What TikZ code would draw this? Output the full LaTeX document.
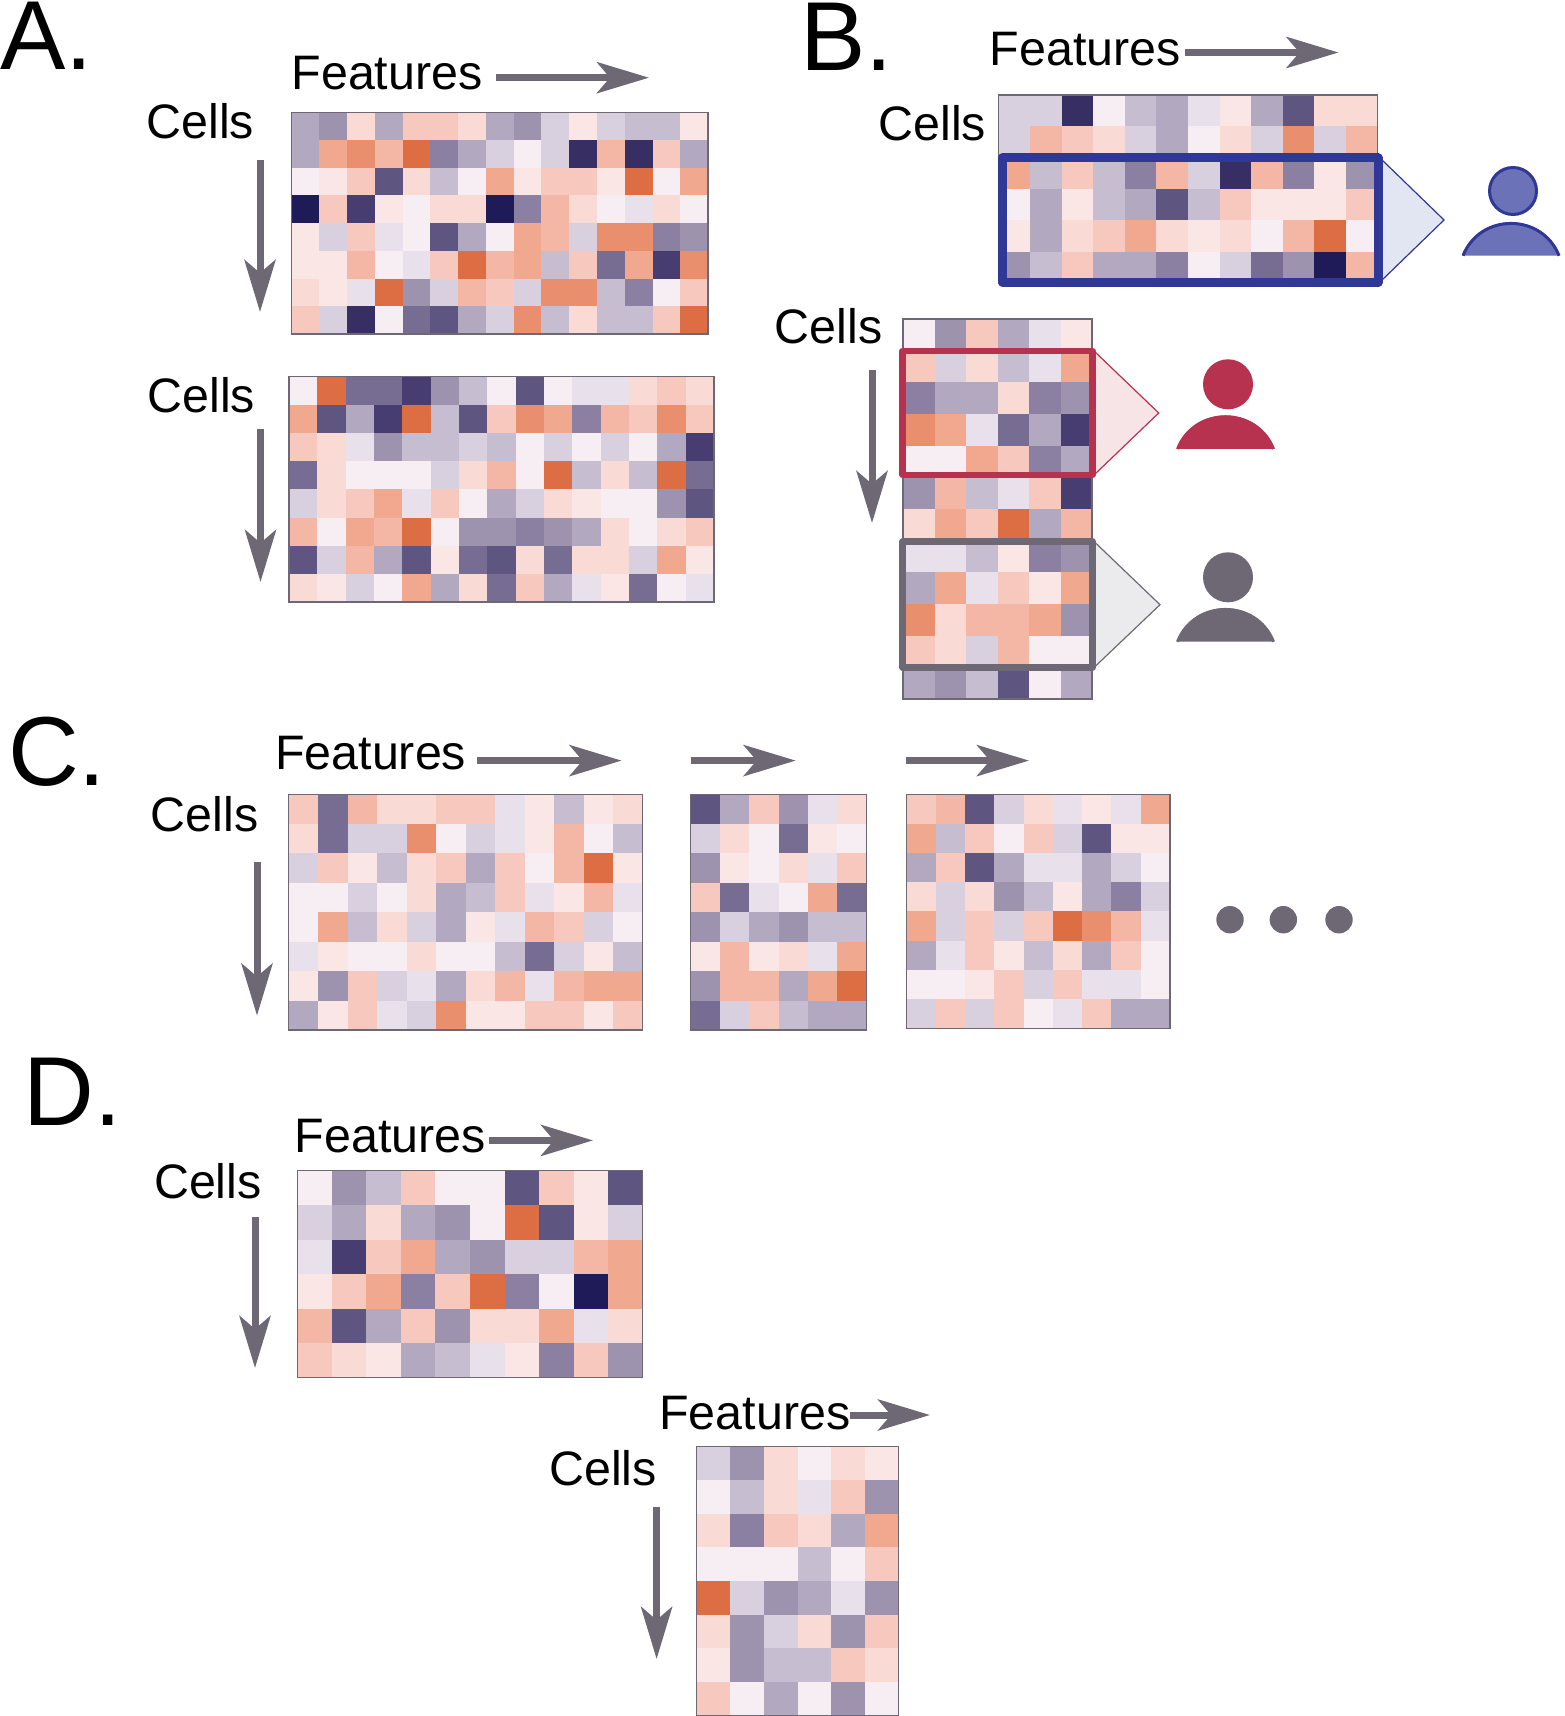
\documentclass[tikz,border=0pt]{standalone}
\usepackage{fontspec}
\setmainfont{Liberation Sans}
\usetikzlibrary{arrows.meta}
\definecolor{hma}{HTML}{1F1B58}
\definecolor{hmb}{HTML}{372F63}
\definecolor{hmc}{HTML}{483D70}
\definecolor{hmd}{HTML}{5F5581}
\definecolor{hme}{HTML}{776C92}
\definecolor{hmf}{HTML}{8C80A2}
\definecolor{hmg}{HTML}{9D93AF}
\definecolor{hmh}{HTML}{B2A9C1}
\definecolor{hmi}{HTML}{C6BED0}
\definecolor{hmj}{HTML}{D8D0DF}
\definecolor{hmk}{HTML}{E8E1EB}
\definecolor{hml}{HTML}{F6EEF3}
\definecolor{hmm}{HTML}{F9E6E5}
\definecolor{hmn}{HTML}{F9DAD5}
\definecolor{hmo}{HTML}{F7C9BE}
\definecolor{hmp}{HTML}{F4B7A5}
\definecolor{hmq}{HTML}{F0A88F}
\definecolor{hmr}{HTML}{E98F6E}
\definecolor{hms}{HTML}{DD6E44}
\definecolor{duSlate}{HTML}{6E6875}
\definecolor{duBlue}{HTML}{2F3797}
\definecolor{duBlueFill}{HTML}{6C72B8}
\definecolor{duBluePale}{HTML}{E2E5F2}
\definecolor{duRed}{HTML}{B7324F}
\definecolor{duRedPale}{HTML}{F6E4E7}
\definecolor{duSlatePale}{HTML}{EBEBED}
\tikzset{
  panel/.style      = {font=\fontsize{49}{59}\selectfont, inner sep=0pt, anchor=base west},
  lbl/.style        = {font=\fontsize{24.2}{29}\selectfont, inner sep=0pt, anchor=base west},
  axisarrow/.style  = {-{Stealth[length=26pt, width=15.5pt, inset=6.5pt]}, line width=3.5pt, duSlate},
  gridline/.style   = {draw=duSlate, line width=0.6pt},
  frame/.style      = {line width=#1, line join=round},
  pointer/.style    = {line width=0.6pt, line join=miter},
  dotnode/.style    = {circle, fill=duSlate, inner sep=0pt, minimum size=13.7pt},
}
\newcommand{\heatmap}[7]{
  \pgfmathsetmacro{\cellw}{(#3-#1)/#5}
  \pgfmathsetmacro{\cellh}{(#4-#2)/#6}
  \foreach \row [count=\r] in {#7} {
    \foreach \col [count=\k] in \row {
      \fill[fill=hm\col] ({#1+(\k-1)*\cellw},{#2+(\r-1)*\cellh}) rectangle ++(\cellw,\cellh);
    }
  }
  \draw[gridline] (#1,#2) rectangle (#3,#4);
}
\newcommand{\person}[6]{
  \draw[fill=#5, draw=#6, line width=1.5pt] (#1,#2) circle[radius=23.5];
  \fill[#5] (#3,#4) .. controls (#3+17,#4-44.7) and (#3+81,#4-44.7) .. (#3+98,#4) -- cycle;
  \draw[#6, line width=1.5pt] (#3+1,#4) .. controls (#3+18,#4-43) and (#3+80,#4-43) .. (#3+97,#4);
}
\begin{document}
\begin{tikzpicture}[x=0.5pt, y=-0.5pt]
  \useasboundingbox (0,0) rectangle (1564,1716);

  \node[panel] (panelA) at (0,70) {A.};
  \node[panel] (panelB) at (800,71) {B.};
  \node[panel] (panelC) at (7.8,785) {C.};
  \node[panel] (panelD) at (23,1125.5) {D.};

  \node[lbl] (featA) at (291.2,90) {Features};
  \node[lbl] (cellsA1) at (146,138.3) {Cells};
  \node[lbl] (cellsA2) at (147.2,412.6) {Cells};
  \node[lbl] (featB) at (989.5,65.7) {Features};
  \node[lbl] (cellsB1) at (878.2,141) {Cells};
  \node[lbl] (cellsB2) at (774.4,343.7) {Cells};
  \node[lbl] (featC) at (274.8,769.4) {Features};
  \node[lbl] (cellsC) at (150.4,831.8) {Cells};
  \node[lbl] (featD1) at (294.5,1152.5) {Features};
  \node[lbl] (cellsD1) at (153.7,1198.4) {Cells};
  \node[lbl] (featD2) at (659,1429) {Features};
  \node[lbl] (cellsD2) at (548.8,1485) {Cells};

  \coordinate (fA0) at (496,77.7);    \coordinate (fA1) at (649,77.7);
  \coordinate (cA0) at (260,160);     \coordinate (cA1) at (260,312);
  \coordinate (cB0) at (260.5,429);   \coordinate (cB1) at (260.5,582);
  \coordinate (fB0) at (1185,52.5);   \coordinate (fB1) at (1338.5,52.5);
  \coordinate (cL0) at (872,370);     \coordinate (cL1) at (872,523);
  \coordinate (fC0) at (477,760.6);   \coordinate (fC1) at (621.6,760.6);
  \coordinate (fE0) at (690.6,760.6); \coordinate (fE1) at (795.7,760.6);
  \coordinate (fG0) at (906,760.6);   \coordinate (fG1) at (1029,760.6);
  \coordinate (cC0) at (257,862);     \coordinate (cC1) at (257,1015.6);
  \coordinate (fD0) at (489,1140.4);  \coordinate (fD1) at (593,1140.4);
  \coordinate (cD0) at (255,1217);    \coordinate (cD1) at (255,1368);
  \coordinate (fH0) at (850,1415);    \coordinate (fH1) at (930,1415);
  \coordinate (cH0) at (656.6,1507);  \coordinate (cH1) at (656.6,1659);
  \foreach \a/\b in {fA0/fA1, cA0/cA1, cB0/cB1, fB0/fB1, cL0/cL1, fC0/fC1, fE0/fE1,
                     fG0/fG1, cC0/cC1, fD0/fD1, cD0/cD1, fH0/fH1, cH0/cH1} {
    \draw[axisarrow] (\a) -- (\b);
  }

  \heatmap{291.7}{112.3}{708}{334}{15}{8}{
    {h,g,n,h,o,o,n,h,g,j,m,j,i,i,m},
    {h,q,r,p,s,f,h,j,l,j,b,p,b,o,h},
    {l,m,o,d,n,i,l,q,m,o,o,m,s,l,q},
    {a,o,c,m,l,n,n,a,f,p,n,l,k,n,l},
    {m,j,o,k,l,d,h,l,q,p,j,r,r,f,g},
    {m,m,p,l,k,o,s,p,q,i,o,e,q,c,r},
    {n,m,k,s,g,j,p,o,j,r,r,i,f,l,o},
    {o,j,b,l,e,d,h,j,r,i,n,i,i,o,s}}
  \heatmap{289}{376.7}{714}{602}{15}{8}{
    {l,s,e,e,c,g,i,l,d,l,k,k,n,o,n},
    {q,d,h,c,s,i,d,o,r,q,f,p,o,r,o},
    {o,n,k,g,i,i,j,i,l,j,l,j,l,h,c},
    {e,n,l,l,l,j,n,p,l,s,i,n,i,s,e},
    {j,n,o,q,k,o,l,h,j,n,m,l,l,g,d},
    {p,l,q,p,s,l,g,g,f,g,h,n,l,n,o},
    {d,j,p,h,d,m,e,d,n,e,n,n,j,q,m},
    {n,m,j,l,q,h,n,e,o,h,k,m,e,l,k}}

  \draw[pointer, fill=duBluePale, draw=duBlue] (1380,158) -- (1444,220) -- (1380,282);
  \heatmap{998.4}{95}{1377.5}{283}{12}{6}{
    {j,j,b,l,i,h,k,m,h,d,n,n},
    {j,p,o,n,j,h,l,n,j,r,j,p},
    {q,i,o,i,f,p,j,b,p,f,m,g},
    {l,h,m,i,h,d,i,o,m,m,m,o},
    {m,h,n,o,q,n,m,n,l,p,s,l},
    {g,i,o,h,h,f,l,j,e,g,a,p}}
  \draw[frame=4.5pt, draw=duBlue] (1002.5,158) rectangle (1378,282.5);
  \person{1513}{191}{1462}{255.7}{duBlueFill}{duBlue}

  \draw[pointer, fill=duRedPale, draw=duRed] (1094,351) -- (1158.7,413) -- (1094,475);
  \draw[pointer, fill=duSlatePale, draw=duSlate] (1094,541.5) -- (1160,604.7) -- (1094,667.5);
  \heatmap{903}{319}{1092}{699}{6}{12}{
    {l,g,o,h,k,m},
    {o,j,n,i,k,q},
    {f,h,h,n,f,g},
    {r,q,k,e,h,c},
    {l,l,q,o,f,h},
    {g,p,i,k,o,c},
    {n,q,o,s,h,p},
    {k,k,i,m,f,g},
    {h,q,k,o,m,q},
    {r,n,p,p,q,g},
    {o,n,j,p,l,l},
    {h,g,i,d,l,h}}
  \draw[frame=3.25pt, draw=duRed] (902.5,351) rectangle (1092.5,475);
  \draw[frame=3.25pt, draw=duSlate] (902.5,541.5) rectangle (1092.5,667.5);
  \person{1228}{384.3}{1176.5}{449}{duRed}{duRed}
  \person{1228}{577.3}{1176.5}{641.7}{duSlate}{duSlate}

  \heatmap{288.8}{794.3}{642.8}{1030}{12}{8}{
    {o,e,p,n,n,o,o,k,m,i,m,n},
    {n,e,j,j,r,l,j,k,m,p,l,i},
    {j,o,m,i,n,o,h,o,l,p,s,m},
    {l,l,j,l,n,h,i,o,k,m,p,k},
    {l,q,i,n,j,h,m,k,p,o,j,l},
    {k,m,l,l,n,l,l,i,e,j,m,i},
    {m,g,o,j,k,h,n,p,k,p,q,q},
    {h,m,o,k,j,r,m,m,o,o,m,o}}
  \heatmap{690.5}{794.3}{866.7}{1030}{6}{8}{
    {d,h,o,g,k,n},
    {j,n,l,e,m,l},
    {g,m,l,n,k,o},
    {o,e,k,l,q,e},
    {g,j,h,g,i,i},
    {m,p,m,n,k,q},
    {g,p,p,h,q,s},
    {e,j,o,i,h,h}}
  \heatmap{906.3}{794.3}{1170}{1028.3}{9}{8}{
    {o,p,d,j,n,k,m,k,q},
    {q,i,o,l,o,j,d,m,m},
    {h,o,d,h,k,k,h,j,l},
    {n,j,n,g,i,m,h,f,j},
    {q,j,o,j,o,s,r,p,k},
    {h,k,o,m,i,n,h,o,l},
    {l,l,m,o,j,o,k,k,l},
    {j,o,j,o,l,k,o,h,h}}
  \node[dotnode] (dotC1) at (1230,919.7) {};
  \node[dotnode] (dotC2) at (1283.3,919.7) {};
  \node[dotnode] (dotC3) at (1339,919.7) {};

  \heatmap{297.3}{1170.7}{642.7}{1377.7}{10}{6}{
    {l,g,i,o,l,l,d,o,m,d},
    {j,h,n,h,g,l,s,d,m,j},
    {k,c,o,q,h,g,j,j,p,q},
    {m,o,q,f,o,s,f,l,a,q},
    {p,d,h,o,g,n,n,q,k,n},
    {o,n,m,h,i,k,m,f,o,g}}
  \heatmap{696.3}{1446.3}{898.7}{1715.7}{6}{8}{
    {j,g,n,l,n,m},
    {l,i,n,k,o,g},
    {n,f,o,n,h,q},
    {l,l,l,i,l,o},
    {s,j,g,h,k,g},
    {n,g,j,n,g,o},
    {m,g,i,i,o,n},
    {o,l,h,l,g,l}}
\end{tikzpicture}
\end{document}
